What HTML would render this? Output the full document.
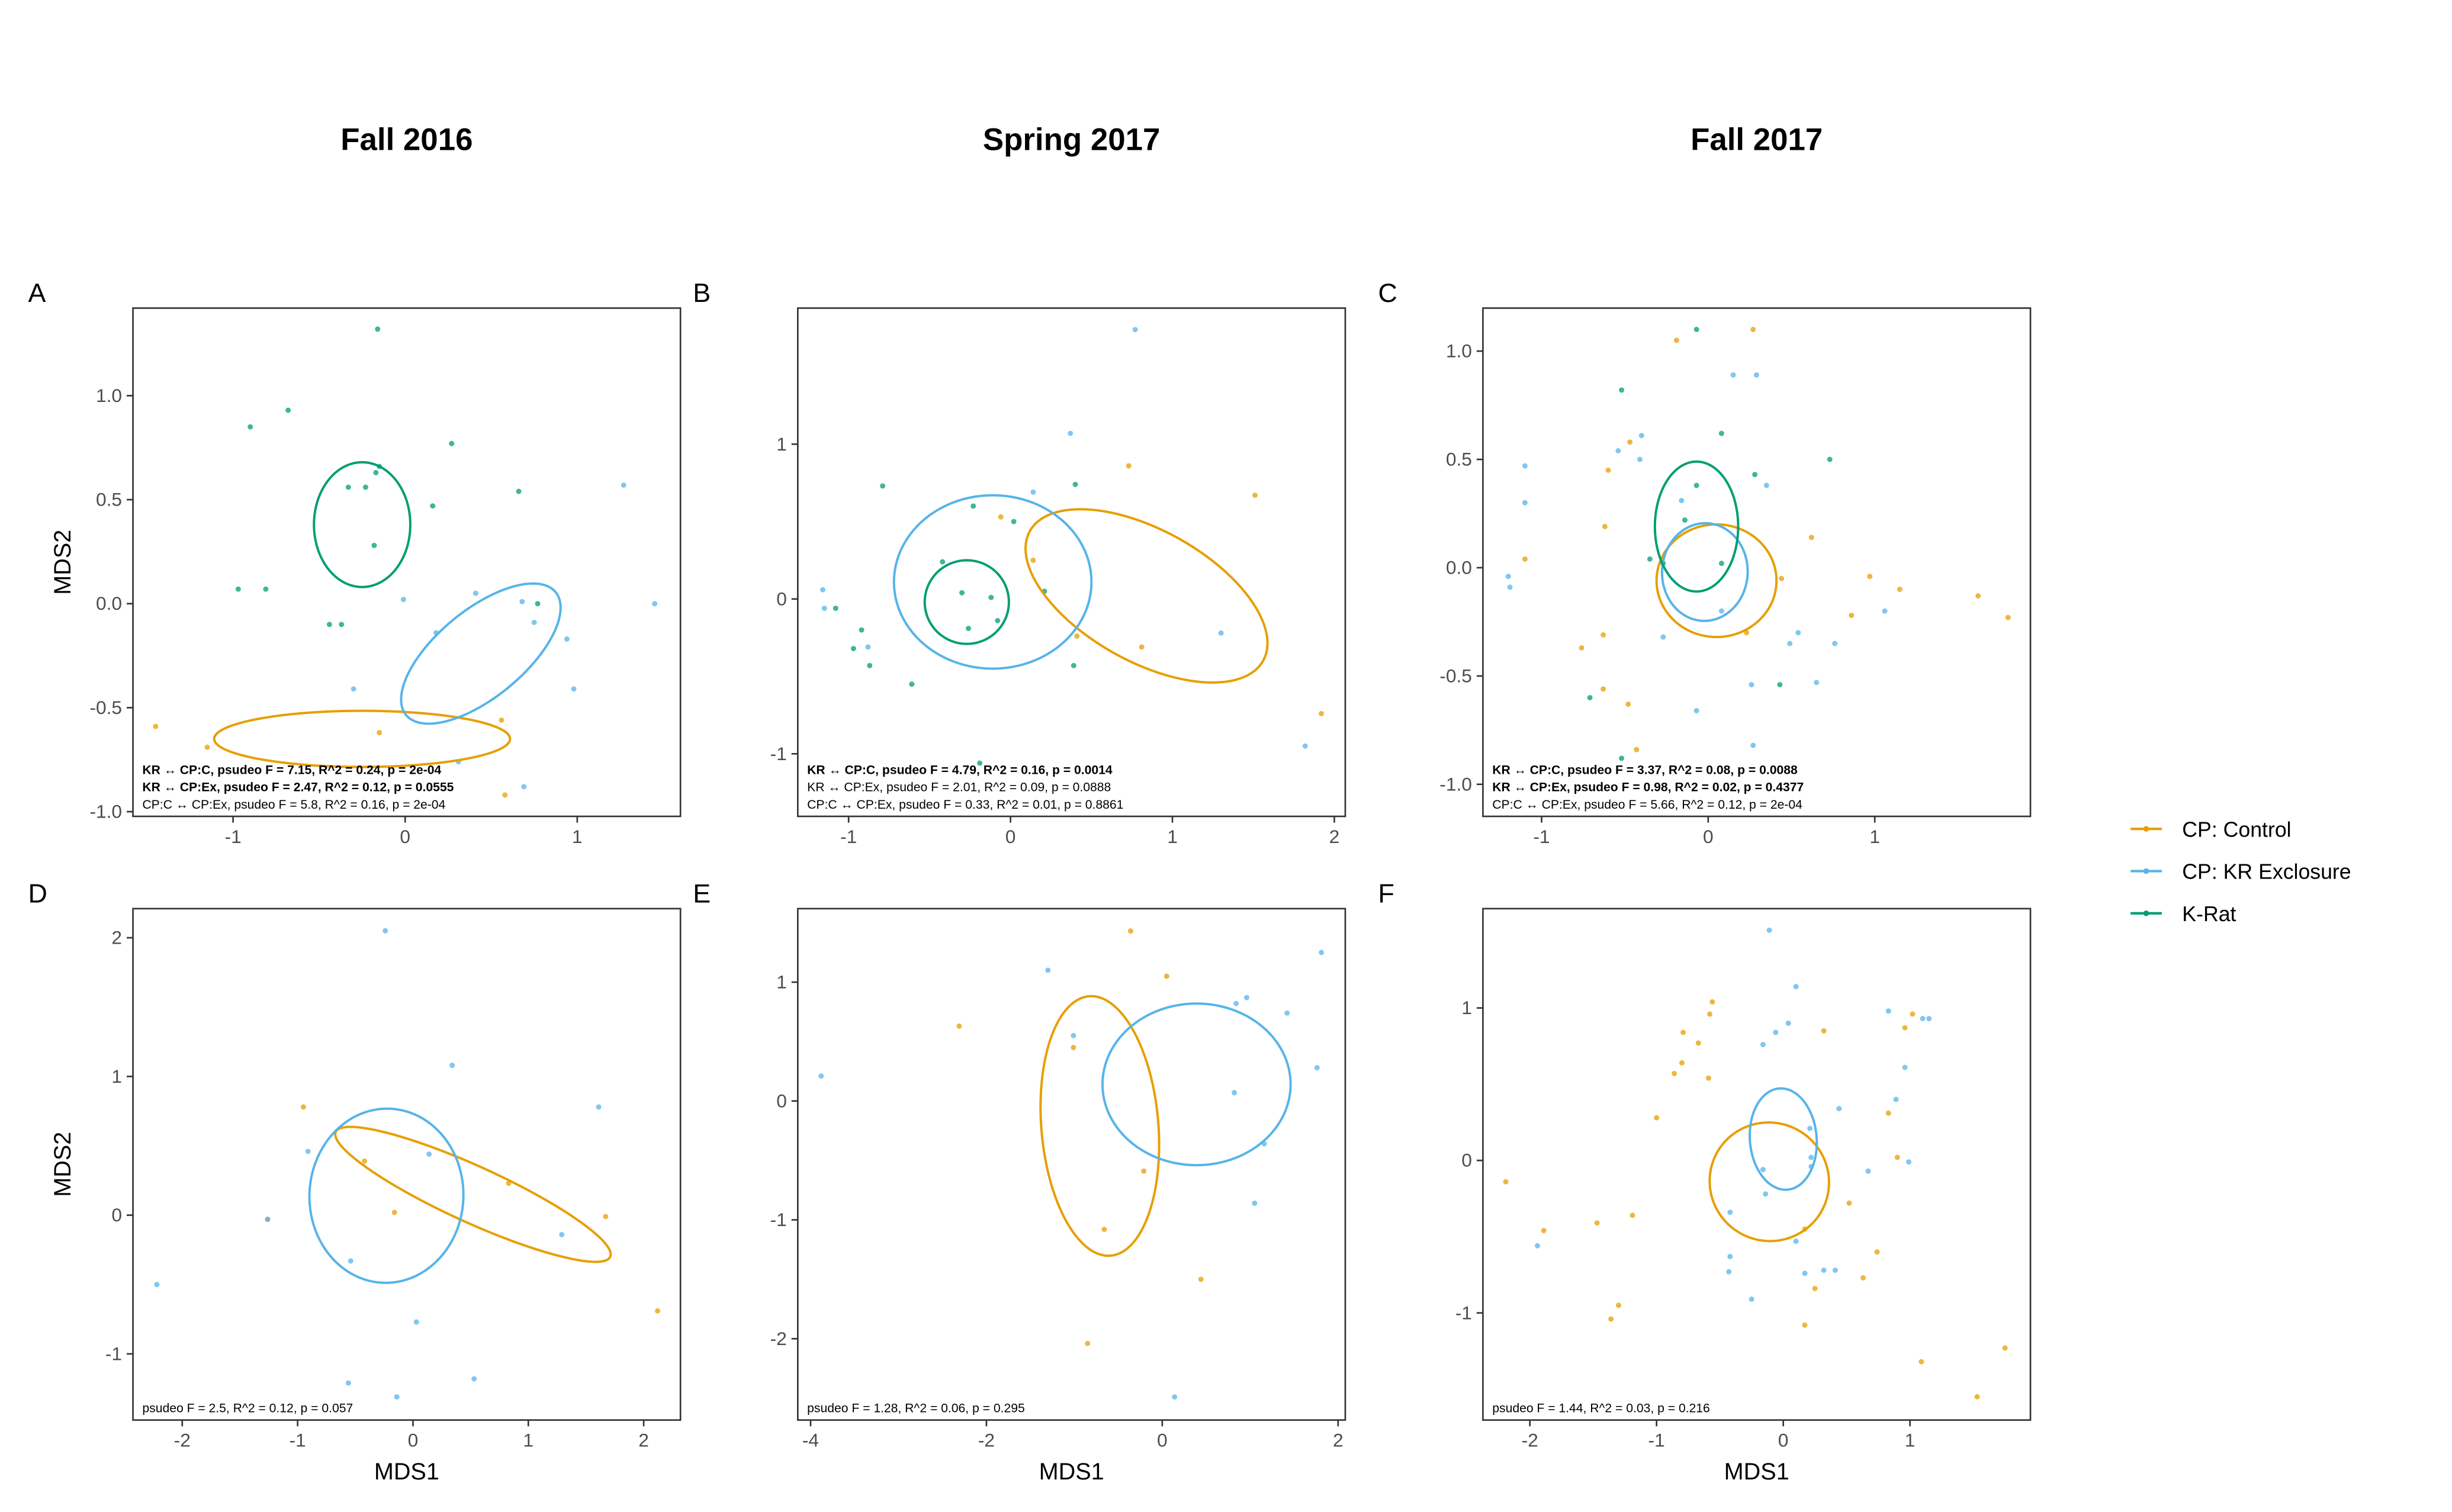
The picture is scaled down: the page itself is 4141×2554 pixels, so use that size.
<!DOCTYPE html>
<html><head><meta charset="utf-8"><style>
html,body{margin:0;padding:0;background:#fff}
svg{display:block;font-family:"Liberation Sans",Arial,sans-serif}
</style></head><body>
<svg id="fig" width="4141" height="2554" viewBox="0 0 1567.5 966.8" preserveAspectRatio="none" xmlns="http://www.w3.org/2000/svg"></svg>
<script>
// ---- data (MDS1, MDS2) per panel and group ----
const groups = ["CP: Control","CP: KR Exclosure","K-Rat"];
const aCtrl=[[-1.45,-0.59],[-0.15,-0.62],[0.56,-0.56],[-1.15,-0.69],[0.58,-0.92]];
const aExcl=[[1.27,0.57],[-0.01,0.02],[0.41,0.05],[0.68,0.01],[1.45,0],[0.75,-0.09],[0.94,-0.17],[0.98,-0.41],[-0.3,-0.41],[0.31,-0.76],[0.69,-0.88],[0.18,-0.14]];
const aKrat=[[-0.16,1.32],[-0.9,0.85],[-0.68,0.93],[0.27,0.77],[-0.15,0.66],[-0.17,0.63],[-0.33,0.56],[-0.23,0.56],[0.16,0.47],[0.66,0.54],[-0.18,0.28],[-0.97,0.07],[-0.81,0.07],[-0.44,-0.1],[-0.37,-0.1],[0.77,0]];
const bCtrl=[[0.73,0.86],[1.51,0.67],[-0.06,0.53],[0.14,0.25],[0.81,-0.31],[1.92,-0.74],[0.41,-0.24]];
const bExcl=[[0.77,1.74],[0.37,1.07],[0.14,0.69],[-1.16,0.06],[-1.15,-0.06],[-0.88,-0.31],[1.3,-0.22],[1.82,-0.95]];
const bKrat=[[-0.79,0.73],[-0.23,0.6],[0.4,0.74],[0.02,0.5],[-0.42,0.24],[-0.3,0.04],[-0.12,0.01],[0.21,0.05],[-0.08,-0.14],[-0.26,-0.19],[-0.92,-0.2],[-1.08,-0.06],[-0.97,-0.32],[-0.87,-0.43],[-0.61,-0.55],[0.39,-0.43],[-0.19,-1.06]];
const cCtrl=[[-0.19,1.05],[0.27,1.1],[-0.47,0.58],[-0.6,0.45],[-0.62,0.19],[-1.1,0.04],[0.62,0.14],[0.44,-0.05],[-0.63,-0.31],[-0.76,-0.37],[-0.63,-0.56],[-0.48,-0.63],[-0.43,-0.84],[0.86,-0.22],[1.15,-0.1],[1.62,-0.13],[1.8,-0.23],[0.97,-0.04],[0.23,-0.3]];
const cExcl=[[-0.54,0.54],[-0.4,0.61],[-1.1,0.47],[-1.1,0.3],[0.15,0.89],[0.29,0.89],[-1.2,-0.04],[-1.19,-0.09],[-0.27,-0.32],[-0.07,-0.66],[0.26,-0.54],[0.27,-0.82],[0.49,-0.35],[0.54,-0.3],[0.65,-0.53],[0.76,-0.35],[1.06,-0.2],[0.35,0.38],[-0.16,0.31],[-0.41,0.5],[0.08,-0.2]];
const cKrat=[[-0.07,1.1],[-0.52,0.82],[0.08,0.62],[0.73,0.5],[-0.07,0.38],[0.28,0.43],[-0.35,0.04],[-0.14,0.22],[0.08,0.02],[-0.71,-0.6],[0.43,-0.54],[-0.52,-0.88],[-0.27,0.02]];
const dCtrl=[[-0.95,0.78],[-0.42,0.39],[-0.16,0.02],[0.83,0.23],[1.67,-0.01],[2.12,-0.69],[-1.26,-0.03]];
const dExcl=[[-0.24,2.05],[0.34,1.08],[1.61,0.78],[-0.91,0.46],[0.14,0.44],[-1.26,-0.03],[1.29,-0.14],[-0.54,-0.33],[0.03,-0.77],[-2.22,-0.5],[-0.56,-1.21],[-0.14,-1.31],[0.53,-1.18]];
const eCtrl=[[-0.36,1.43],[-2.31,0.63],[0.05,1.05],[-1.01,0.45],[-0.21,-0.59],[-0.66,-1.08],[0.44,-1.5],[-0.85,-2.04]];
const eExcl=[[-1.3,1.1],[-3.88,0.21],[-1.01,0.55],[0.84,0.82],[0.96,0.87],[1.42,0.74],[1.81,1.25],[1.76,0.28],[0.82,0.07],[1.16,-0.36],[1.05,-0.86],[0.14,-2.49]];
const fCtrl=[[-0.56,1.04],[-0.58,0.96],[-0.79,0.84],[-0.67,0.77],[-0.8,0.64],[-0.59,0.54],[-0.86,0.57],[0.32,0.85],[0.96,0.87],[1.02,0.96],[-1.0,0.28],[-2.19,-0.14],[-1.89,-0.46],[-1.47,-0.41],[-1.19,-0.36],[-1.3,-0.95],[-1.36,-1.04],[0.17,-0.45],[0.52,-0.28],[0.74,-0.6],[0.63,-0.77],[0.25,-0.84],[0.17,-1.08],[0.9,0.02],[1.09,-1.32],[1.53,-1.55],[1.75,-1.23],[0.83,0.31]];
const fExcl=[[-0.11,1.51],[0.1,1.14],[0.04,0.9],[-0.06,0.84],[-0.16,0.76],[0.83,0.98],[1.1,0.93],[1.15,0.93],[0.96,0.61],[0.89,0.4],[0.44,0.34],[0.21,0.21],[0.22,0.02],[-0.16,-0.06],[-0.14,-0.22],[-0.42,-0.34],[-0.42,-0.63],[-0.43,-0.73],[-0.25,-0.91],[0.1,-0.53],[0.17,-0.74],[0.32,-0.72],[0.41,-0.72],[0.67,-0.07],[0.99,-0.01],[-1.94,-0.56],[0.22,-0.04]];
// ellipses: [center x, center y, u-vector, v-vector] in data units
const aEll=[[-0.25,-0.65,[0.86,0],[0,0.135]],[0.44,-0.24,[0.435,0.295],[0.16,-0.163]],[-0.25,0.38,[0.28,0],[0,0.3]]];
const bEll=[[0.84,0.02,[0.72,-0.42],[-0.2,-0.37]],[-0.11,0.11,[0.61,0],[0,0.56]],[-0.27,-0.02,[0.26,0],[0,0.27]]];
const cEll=[[0.05,-0.06,[0.36,0],[0,0.26]],[-0.02,-0.02,[0.25,-0.05],[0.06,0.22]],[-0.07,0.19,[0.25,0],[0,0.3]]];
const dEll=[[0.52,0.15,[1.19,-0.45],[-0.1,-0.185]],[-0.23,0.14,[0.66,0.1],[-0.1,0.62]]];
const eEll=[[-0.71,-0.21,[0.14,-1.09],[0.66,0.07]],[0.39,0.14,[1.07,0],[0,0.68]]];
const fEll=[[-0.11,-0.14,[0.45,-0.12],[0.14,0.37]],[0.0,0.14,[0.26,0.04],[-0.05,0.33]]];
// tick labels
const aX=[-1,0,1], aY=[1.0,0.5,0.0,-0.5,-1.0];
const bX=[-1,0,1,2], bY=[1,0,-1];
const cX=[-1,0,1], cY=[1.0,0.5,0.0,-0.5,-1.0];
const dX=[-2,-1,0,1,2], dY=[2,1,0,-1];
const eX=[-4,-2,0,2], eY=[1,0,-1,-2];
const fX=[-2,-1,0,1], fY=[1,0,-1];

const colors=["#E69F00","#56B4E9","#009E73"];
const NS="http://www.w3.org/2000/svg";
const svg=document.getElementById("fig");
function mk(tag,attrs,parent,text){const e=document.createElementNS(NS,tag);for(const k in attrs)e.setAttribute(k,attrs[k]);if(text!==undefined)e.textContent=text;(parent||svg).appendChild(e);return e;}

const panels=[
 {id:"a",letter:"A",box:[85,197,435,522],x0:259,xs:110,y0:386,ys:133,xt:aX,yt:aY,dec:1,pts:[aCtrl,aExcl,aKrat],ell:aEll,ylab:true,xlab:false,
  notes:[["KR \u2194 CP:C, psudeo F = 7.15, R^2 = 0.24, p = 2e-04",1],["KR \u2194 CP:Ex, psudeo F = 2.47, R^2 = 0.12, p = 0.0555",1],["CP:C \u2194 CP:Ex, psudeo F = 5.8, R^2 = 0.16, p = 2e-04",0]]},
 {id:"b",letter:"B",box:[510,197,860,522],x0:646,xs:103.5,y0:383,ys:99,xt:bX,yt:bY,dec:0,pts:[bCtrl,bExcl,bKrat],ell:bEll,
  notes:[["KR \u2194 CP:C, psudeo F = 4.79, R^2 = 0.16, p = 0.0014",1],["KR \u2194 CP:Ex, psudeo F = 2.01, R^2 = 0.09, p = 0.0888",0],["CP:C \u2194 CP:Ex, psudeo F = 0.33, R^2 = 0.01, p = 0.8861",0]]},
 {id:"c",letter:"C",box:[948,197,1298,522],x0:1092,xs:106.5,y0:363,ys:138.5,xt:cX,yt:cY,dec:1,pts:[cCtrl,cExcl,cKrat],ell:cEll,
  notes:[["KR \u2194 CP:C, psudeo F = 3.37, R^2 = 0.08, p = 0.0088",1],["KR \u2194 CP:Ex, psudeo F = 0.98, R^2 = 0.02, p = 0.4377",1],["CP:C \u2194 CP:Ex, psudeo F = 5.66, R^2 = 0.12, p = 2e-04",0]]},
 {id:"d",letter:"D",box:[85,581,435,908],x0:264,xs:73.75,y0:777,ys:88.7,xt:dX,yt:dY,dec:0,pts:[dCtrl,dExcl],ell:dEll,ylab:true,xlab:true,notes:[["psudeo F = 2.5, R^2 = 0.12, p = 0.057",0]]},
 {id:"e",letter:"E",box:[510,581,860,908],x0:743,xs:56.2,y0:704,ys:76,xt:eX,yt:eY,dec:0,pts:[eCtrl,eExcl],ell:eEll,xlab:true,notes:[["psudeo F = 1.28, R^2 = 0.06, p = 0.295",0]]},
 {id:"f",letter:"F",box:[948,581,1298,908],x0:1140,xs:81,y0:742,ys:97.5,xt:fX,yt:fY,dec:0,pts:[fCtrl,fExcl],ell:fEll,xlab:true,notes:[["psudeo F = 1.44, R^2 = 0.03, p = 0.216",0]]}
];

[["Fall 2016",260],["Spring 2017",685],["Fall 2017",1123]].forEach(([t,x],i)=>{
  const e=mk("text",{x:x,y:96,"text-anchor":"middle","font-size":20,"font-weight":"bold",fill:"#000"},svg,t);
  
  
});

panels.forEach(p=>{
  const g=mk("g",{});
  
  
  const sx=v=>p.x0+v*p.xs, sy=v=>p.y0-v*p.ys;
  const [L,T,R,B]=p.box;
  const lt=mk("text",{x:L-67,y:T-4,"font-size":17,fill:"#000"},g,p.letter);
  
  
  p.pts.forEach((arr,gi)=>{
    arr.forEach(d=>{
      const c=mk("circle",{cx:sx(d[0]),cy:sy(d[1]),r:1.7,fill:colors[gi],"fill-opacity":0.75},g);
      
      
    });
  });
  p.ell.forEach((el,gi)=>{
    const [cx,cy,u,v]=el;let d="";
    for(let i=0;i<=100;i++){const t=i/100*2*Math.PI;
      const X=sx(cx+u[0]*Math.cos(t)+v[0]*Math.sin(t)),Y=sy(cy+u[1]*Math.cos(t)+v[1]*Math.sin(t));
      d+=(i?"L":"M")+X.toFixed(2)+","+Y.toFixed(2);}
    const e=mk("path",{d:d,fill:"none",stroke:colors[gi],"stroke-width":1.5},g);
    
    
  });
  const n=p.notes.length;
  p.notes.forEach((nt,i)=>{
    const e=mk("text",{x:L+6,y:B-5-(n-1-i)*11,"font-size":8,"font-weight":nt[1]?"bold":"normal",fill:"#000"},g,nt[0]);
    
    
  });
  const fr=mk("rect",{x:L,y:T,width:R-L,height:B-T,fill:"none",stroke:"#333","stroke-width":1},g);
  
  
  p.xt.forEach(v=>{
    const X=sx(v);
    mk("line",{x1:X,x2:X,y1:B,y2:B+4,stroke:"#333","stroke-width":1},g);
    const t=mk("text",{x:X,y:B+17,"text-anchor":"middle","font-size":12,fill:"#4d4d4d"},g,String(v));
    
    
  });
  p.yt.forEach(v=>{
    const Y=sy(v);
    mk("line",{x1:L-4,x2:L,y1:Y,y2:Y,stroke:"#333","stroke-width":1},g);
    const t=mk("text",{x:L-7,y:Y+4,"text-anchor":"end","font-size":12,fill:"#4d4d4d"},g,p.dec?v.toFixed(1):String(v));
    
    
  });
  if(p.ylab){
    const cy=(T+B)/2;
    const t=mk("text",{x:45,y:cy,"text-anchor":"middle","font-size":15,fill:"#000",transform:"rotate(-90 45 "+cy+")"},g,"MDS2");
    
    
  }
  if(p.xlab){
    const t=mk("text",{x:(L+R)/2,y:946,"text-anchor":"middle","font-size":15,fill:"#000"},g,"MDS1");
    
    
  }
});

const lg=mk("g",{});


groups.forEach((name,i)=>{
  const y=530+i*27;
  const ln=mk("line",{x1:1362,x2:1382,y1:y,y2:y,stroke:colors[i],"stroke-width":1.6},lg);
  
  
  mk("circle",{cx:1372,cy:y,r:1.8,fill:colors[i]},lg);
  const t=mk("text",{x:1395,y:y+5,"font-size":13.5,fill:"#000"},lg,name);
  
  
});
</script>
</body></html>
